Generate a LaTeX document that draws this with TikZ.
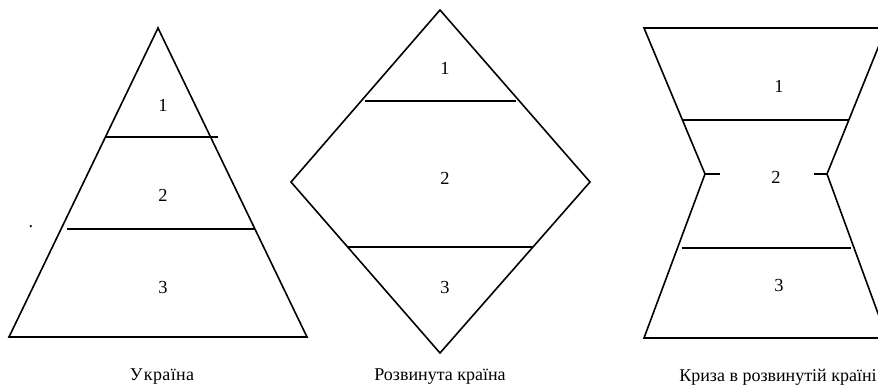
\documentclass[tikz,border=0pt]{standalone}
\usepackage{fontspec}
\setmainfont{Liberation Serif}
\begin{document}
\begin{tikzpicture}[x=0.75pt,y=-0.75pt,
  shape line/.style={line width=1.2pt, line join=miter},
  num/.style={font=\fontsize{13.8}{16}\selectfont, inner sep=0pt},
  caption/.style={font=\fontsize{13.5}{16}\selectfont, inner sep=0pt}]
\useasboundingbox (0,0) rectangle (878,385);
\clip (0,0) rectangle (878,385);
% Triangle (Ukraine)
\coordinate (tA) at (158,28);
\coordinate (tL) at (9,337);
\coordinate (tR) at (307,337);
\draw[shape line] (tA) -- (tR) -- (tL) -- cycle;
\coordinate (t1a) at (105,137); \coordinate (t1b) at (218,137);
\coordinate (t2a) at (67,229);  \coordinate (t2b) at (255,229);
\draw[shape line] (t1a) -- (t1b);
\draw[shape line] (t2a) -- (t2b);
\node[num] (tn1) at (163,105) {1};
\node[num] (tn2) at (163,195) {2};
\node[num] (tn3) at (163,287) {3};
\node[num] (tdot) at (31,227) {.};
\node[caption] (tcap) at (162,377) {У\kern1pt к\kern0.3pt р\kern0.3pt а\kern0.3pt ї\kern0.3pt н\kern0.3pt а};
% Diamond (developed country)
\coordinate (dT) at (440,10);
\coordinate (dL) at (291,182);
\coordinate (dR) at (590,182);
\coordinate (dB) at (440,353);
\draw[shape line] (dT) -- (dR) -- (dB) -- (dL) -- cycle;
\coordinate (d1a) at (365,101); \coordinate (d1b) at (516,101);
\coordinate (d2a) at (347,247); \coordinate (d2b) at (533,247);
\draw[shape line] (d1a) -- (d1b);
\draw[shape line] (d2a) -- (d2b);
\node[num] (dn1) at (445,68) {1};
\node[num] (dn2) at (445,178) {2};
\node[num] (dn3) at (445,287) {3};
\node[caption] (dcap) at (440,377) {Розвинута країна};
% Hourglass (crisis)
\coordinate (hTL) at (644,28);
\coordinate (hTR) at (886,28);
\coordinate (hWL) at (705,174);
\coordinate (hWR) at (827,174);
\coordinate (hBL) at (644,338);
\coordinate (hBR) at (887,338);
\draw[shape line] (hWL) -- (hTL) -- (hTR) -- (hWR) -- (hBR) -- (hBL) -- cycle;
\coordinate (hk1) at (720,174); \coordinate (hk2) at (814,174);
\draw[shape line] (hWL) -- (hk1);
\draw[shape line] (hk2) -- (hWR);
\coordinate (h1a) at (683,120); \coordinate (h1b) at (849,120);
\coordinate (h2a) at (682,248); \coordinate (h2b) at (851,248);
\draw[shape line] (h1a) -- (h1b);
\draw[shape line] (h2a) -- (h2b);
\node[num] (hn1) at (779,86) {1};
\node[num] (hn2) at (776,177) {2};
\node[num] (hn3) at (779,285) {3};
\node[caption] (hcap) at (778,377) {Криза в розвинутій країні};
\end{tikzpicture}
\end{document}
